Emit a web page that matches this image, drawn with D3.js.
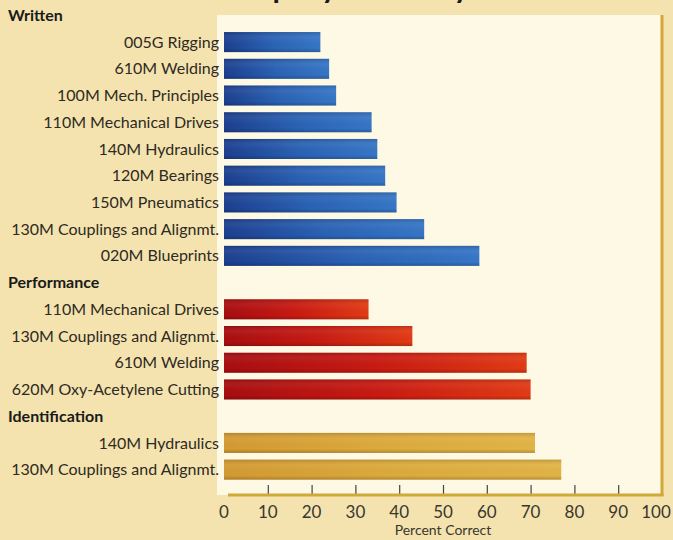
<!DOCTYPE html>
<html>
<head>
<meta charset="utf-8">
<script src="https://cdn.jsdelivr.net/npm/d3@7"></script>
<style>
  html, body { margin: 0; padding: 0; background: #f4e3ae; }
  svg { display: block; }
</style>
</head>
<body>
<div id="chart"></div>
<script>
// Groups and their rows (top to bottom)
const groups = ['Written', 'Performance', 'Identification']

const writtenLabels = [
  '005G Rigging', '610M Welding', '100M Mech. Principles', '110M Mechanical Drives',
  '140M Hydraulics', '120M Bearings', '150M Pneumatics', '130M Couplings and Alignmt.',
  '020M Blueprints'
]
const writtenValues = [22, 24, 25.6, 33.7, 35, 36.8, 39.4, 45.7, 58.3]

const performanceLabels = [
  '110M Mechanical Drives', '130M Couplings and Alignmt.', '610M Welding',
  '620M Oxy-Acetylene Cutting'
]
const performanceValues = [33, 43, 69.1, 70]

const identificationLabels = ['140M Hydraulics', '130M Couplings and Alignmt.']
const identificationValues = [71, 77]

const xTicks = [0, 10, 20, 30, 40, 50, 60, 70, 80, 90, 100]

const width = 673
const height = 540

// build the row list: header row, then its bars
const seriesLabels = [writtenLabels, performanceLabels, identificationLabels]
const seriesValues = [writtenValues, performanceValues, identificationValues]
const rows = []
groups.forEach((g, gi) => {
  rows.push({ id: 'h' + gi, header: true, label: g })
  seriesLabels[gi].forEach((l, i) => {
    rows.push({ id: gi + '-' + i, header: false, label: l, value: seriesValues[gi][i], group: gi })
  })
})

const x = d3.scaleLinear().domain([0, 100]).range([224, 662])
const y = d3.scaleBand()
  .domain(rows.map(d => d.id))
  .range([2, 483])
  .paddingInner(0.25)
  .paddingOuter(0.125)

const svg = d3.select('#chart')
  .append('svg')
  .attr('width', width)
  .attr('height', height)

const defs = svg.append('defs')
const barColors = [
  ['#1c3f8f', '#2a62b4', '#3676c6'],   // blue
  ['#a80d10', '#c81a12', '#e23a14'],   // red
  ['#d39a32', '#dcaa3c', '#e2b446']    // gold
]
barColors.forEach((c, i) => {
  const g = defs.append('linearGradient')
    .attr('id', 'bar-grad-' + i)
    .attr('x1', '0%').attr('x2', '100%')
    .attr('y1', '0%').attr('y2', '0%')
  c.forEach((col, k) => {
    g.append('stop')
      .attr('offset', (k / (c.length - 1) * 100) + '%')
      .attr('stop-color', col)
  })
})
// slight shading top/bottom
const shade = defs.append('linearGradient')
  .attr('id', 'bar-shade')
  .attr('x1', '0%').attr('x2', '0%')
  .attr('y1', '0%').attr('y2', '100%')
shade.append('stop').attr('offset', '0%').attr('stop-color', '#000').attr('stop-opacity', 0.15)
shade.append('stop').attr('offset', '30%').attr('stop-color', '#fff').attr('stop-opacity', 0.05)
shade.append('stop').attr('offset', '80%').attr('stop-color', '#000').attr('stop-opacity', 0)
shade.append('stop').attr('offset', '100%').attr('stop-color', '#000').attr('stop-opacity', 0.2)

// Cut-off title at the very top
svg.append('text')
  .attr('x', 340)
  .attr('y', -2)
  .attr('text-anchor', 'middle')
  .attr('fill', '#1a1a1a')
  .attr('font-family', 'Lato, sans-serif')
  .attr('font-weight', 'bold')
  .attr('font-size', '30px')
  .text('Company Summary')

// Plot panel
svg.append('rect')
  .attr('x', 217)
  .attr('y', 15)
  .attr('width', x(100) - 217)
  .attr('height', 495 - 15)
  .attr('fill', '#fdf9e5')

// Right border line
svg.append('line')
  .attr('x1', x(100)).attr('x2', x(100))
  .attr('y1', 15).attr('y2', 496)
  .attr('stroke', '#d2a838')
  .attr('stroke-width', 3)

// Bars
const barRows = rows.filter(d => !d.header)
svg.append('g')
  .selectAll('rect')
  .data(barRows)
  .join('rect')
  .attr('x', x(0))
  .attr('y', d => y(d.id))
  .attr('width', d => x(d.value) - x(0))
  .attr('height', y.bandwidth())
  .attr('fill', d => `url(#bar-grad-${d.group})`)

svg.append('g')
  .selectAll('rect')
  .data(barRows)
  .join('rect')
  .attr('x', x(0))
  .attr('y', d => y(d.id))
  .attr('width', d => x(d.value) - x(0))
  .attr('height', y.bandwidth())
  .attr('fill', 'url(#bar-shade)')

// Row labels
svg.append('g')
  .selectAll('text')
  .data(barRows)
  .join('text')
  .attr('x', 219)
  .attr('y', d => y(d.id) + y.bandwidth() / 2)
  .attr('dy', '0.35em')
  .attr('text-anchor', 'end')
  .attr('fill', '#2e2a24')
  .attr('font-family', 'Lato, sans-serif')
  .attr('font-size', '16px')
  .text(d => d.label)

// Group headers
svg.append('g')
  .selectAll('text')
  .data(rows.filter(d => d.header))
  .join('text')
  .attr('x', 8)
  .attr('y', d => y(d.id) + y.bandwidth() / 2)
  .attr('dy', '0.35em')
  .attr('fill', '#1a1a1a')
  .attr('font-family', 'Lato, sans-serif')
  .attr('font-weight', 'bold')
  .attr('font-size', '16px')
  .text(d => d.label)

// X axis
const axis = svg.append('g')
  .attr('transform', 'translate(0,495)')
  .call(d3.axisTop(x).tickValues(xTicks.slice(1, -1)).tickSize(10).tickFormat(''))
axis.select('.domain').remove()
axis.selectAll('.tick line').attr('stroke', '#444').attr('stroke-width', 1.2)

svg.append('line')
  .attr('x1', 228).attr('x2', x(100) + 1.5)
  .attr('y1', 495).attr('y2', 495)
  .attr('stroke', '#d2a838')
  .attr('stroke-width', 3)

svg.append('g')
  .selectAll('text')
  .data(xTicks)
  .join('text')
  .attr('x', d => x(d) - (d === 100 ? 6 : 0))
  .attr('y', 512)
  .attr('dy', '0.35em')
  .attr('text-anchor', 'middle')
  .attr('fill', '#3a3630')
  .attr('font-family', 'Lato, sans-serif')
  .attr('font-size', '17px')
  .text(d => d)

svg.append('text')
  .attr('x', 443)
  .attr('y', 530)
  .attr('dy', '0.35em')
  .attr('text-anchor', 'middle')
  .attr('fill', '#3a3630')
  .attr('font-family', 'Lato, sans-serif')
  .attr('font-size', '14px')
  .text('Percent Correct')
</script>
</body>
</html>
